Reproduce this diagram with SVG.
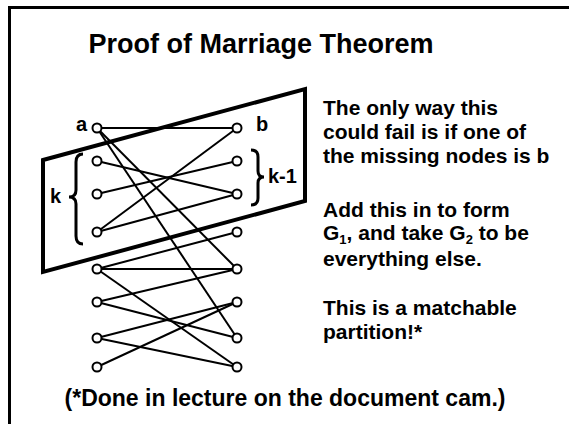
<svg xmlns="http://www.w3.org/2000/svg" width="569" height="424" viewBox="0 0 569 424">
<style>
text{font-family:"Liberation Sans",Arial,sans-serif;font-weight:bold;fill:#000}
.t{font-size:27px}
.b{font-size:21px}
.l{font-size:20px}
.f{font-size:23px}
.e{stroke:#000;stroke-width:2;fill:none}
.n{fill:#fff;stroke:#000;stroke-width:2}
.br{fill:none;stroke:#000;stroke-width:3}
</style>
<rect width="569" height="424" fill="#fff"/>
<path d="M9.5 424V7.5H569" fill="none" stroke="#000" stroke-width="3"/>
<text class="t" x="261" y="53" text-anchor="middle">Proof of Marriage Theorem</text>
<polygon id="partition" points="43,160 305,89 305,201 43,272" fill="none" stroke="#000" stroke-width="4"/>
<g id="connectors">
<line class="e" x1="97" y1="128" x2="237" y2="128"/>
<line class="e" x1="97" y1="128" x2="237" y2="269"/>
<line class="e" x1="97" y1="128" x2="237" y2="338"/>
<line class="e" x1="97" y1="161" x2="237" y2="194"/>
<line class="e" x1="97" y1="194" x2="237" y2="161"/>
<line class="e" x1="97" y1="232" x2="237" y2="128"/>
<line class="e" x1="97" y1="232" x2="237" y2="194"/>
<line class="e" x1="97" y1="269" x2="237" y2="232"/>
<line class="e" x1="97" y1="269" x2="237" y2="269"/>
<line class="e" x1="97" y1="269" x2="237" y2="367"/>
<line class="e" x1="97" y1="302" x2="237" y2="269"/>
<line class="e" x1="97" y1="302" x2="237" y2="338"/>
<line class="e" x1="97" y1="338" x2="237" y2="302"/>
<line class="e" x1="97" y1="338" x2="237" y2="367"/>
<line class="e" x1="97" y1="367" x2="237" y2="302"/>
</g>
<g id="L0"><circle class="n" cx="97" cy="128" r="4.5"/><text class="l" x="87" y="131" text-anchor="end">a</text></g>
<g id="L1"><circle class="n" cx="97" cy="161" r="4.5"/></g>
<g id="L2"><circle class="n" cx="97" cy="194" r="4.5"/></g>
<g id="L3"><circle class="n" cx="97" cy="232" r="4.5"/></g>
<g id="L4"><circle class="n" cx="97" cy="269" r="4.5"/></g>
<g id="L5"><circle class="n" cx="97" cy="302" r="4.5"/></g>
<g id="L6"><circle class="n" cx="97" cy="338" r="4.5"/></g>
<g id="L7"><circle class="n" cx="97" cy="367" r="4.5"/></g>
<g id="R0"><circle class="n" cx="237" cy="128" r="4.5"/><text class="l" x="256" y="131">b</text></g>
<g id="R1"><circle class="n" cx="237" cy="161" r="4.5"/></g>
<g id="R2"><circle class="n" cx="237" cy="194" r="4.5"/></g>
<g id="R3"><circle class="n" cx="237" cy="232" r="4.5"/></g>
<g id="R4"><circle class="n" cx="237" cy="269" r="4.5"/></g>
<g id="R5"><circle class="n" cx="237" cy="302" r="4.5"/></g>
<g id="R6"><circle class="n" cx="237" cy="338" r="4.5"/></g>
<g id="R7"><circle class="n" cx="237" cy="367" r="4.5"/></g>
<g id="k-brace">
<path class="br" d="M83 154 Q76 154 76 162 V190 Q76 197 69 197 Q76 197 76 204 V236 Q76 244 83 244"/>
<text class="l" x="50" y="203">k</text>
</g>
<g id="k1-brace">
<path class="br" d="M251 150 Q258 150 258 157 V171 Q258 177 264 177 Q258 177 258 183 V198 Q258 205 251 205"/>
<text class="l" x="268" y="183">k-1</text>
</g>
<g id="notes">
<text class="b" x="323" y="115">The only way this</text>
<text class="b" x="323" y="139">could fail is if one of</text>
<text class="b" x="323" y="163">the missing nodes is b</text>
<text class="b" x="323" y="217">Add this in to form</text>
<text class="b" x="323" y="240">G<tspan font-size="13" dy="4">1</tspan><tspan dy="-4">, and take G</tspan><tspan font-size="13" dy="4">2</tspan><tspan dy="-4"> to be</tspan></text>
<text class="b" x="323" y="266">everything else.</text>
<text class="b" x="323" y="315">This is a matchable</text>
<text class="b" x="323" y="339">partition!*</text>
</g>
<text class="f" x="285" y="406" text-anchor="middle">(*Done in lecture on the document cam.)</text>
</svg>
